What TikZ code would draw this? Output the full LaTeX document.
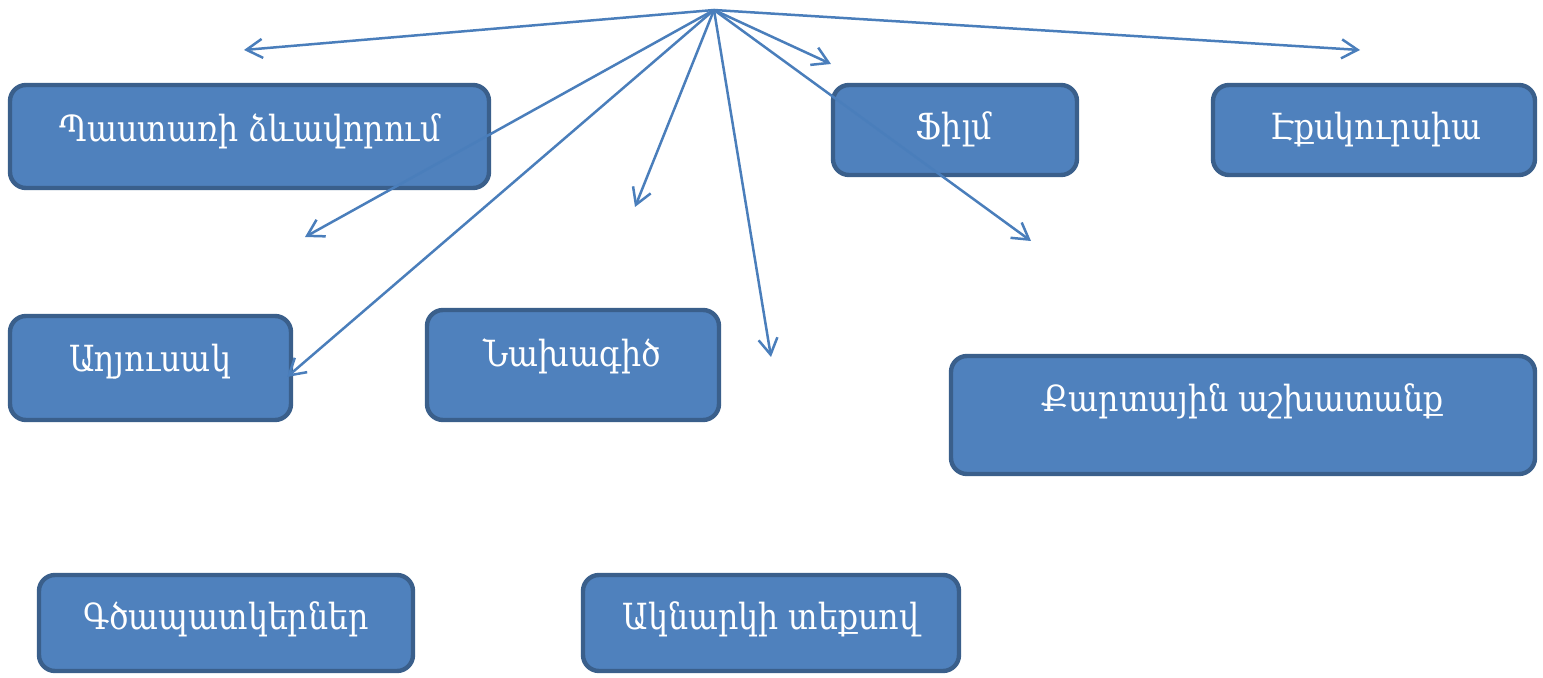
\documentclass[tikz,border=0pt]{standalone}
\usepackage{fontspec}
\setmainfont{DejaVu Serif}[FakeStretch=0.88]
\usetikzlibrary{arrows.meta}
\definecolor{boxfill}{HTML}{4F81BD}
\definecolor{boxline}{HTML}{3A5F8B}
\definecolor{arrowc}{HTML}{4A7EBB}
\begin{document}
\begin{tikzpicture}[x=0.5pt,y=-0.5pt,
  box/.style={draw=boxline, line width=2.2pt, fill=boxfill, rounded corners=8pt, inner sep=0pt},
  lbl/.style={anchor=base, text=white, font=\fontsize{18}{21}\selectfont, inner sep=0pt},
  arr/.style={draw=arrowc, line width=1.25pt, -{Straight Barb[length=8pt,width=9.5pt,line width=1.25pt]}}]
\useasboundingbox (0,0) rectangle (1543,678);
% boxes
\node[box, minimum width=479*0.5pt, minimum height=103*0.5pt] (b1) at (249.5,136.5) {};
\node[box, minimum width=244*0.5pt, minimum height=90*0.5pt] (b2) at (955,130) {};
\node[box, minimum width=322*0.5pt, minimum height=90*0.5pt] (b3) at (1374,130) {};
\node[box, minimum width=281*0.5pt, minimum height=104*0.5pt] (b4) at (150.5,368) {};
\node[box, minimum width=292*0.5pt, minimum height=110*0.5pt] (b5) at (573,365) {};
\node[box, minimum width=584*0.5pt, minimum height=118*0.5pt] (b6) at (1243,415) {};
\node[box, minimum width=374*0.5pt, minimum height=96*0.5pt] (b7) at (226,623) {};
\node[box, minimum width=376*0.5pt, minimum height=96*0.5pt] (b8) at (771,623) {};
% labels
\node[lbl] (t1) at (250,142) {Պաստառի ձևավորում};
\node[lbl] (t2) at (954,140) {Ֆիլմ};
\node[lbl] (t3) at (1376,140) {Էքսկուրսիա};
\node[lbl] (t4) at (150,372) {Աղյուսակ};
\node[lbl] (t5) at (572,367) {Նախագիծ};
\node[lbl] (t6) at (1243,412) {Քարտային աշխատանք};
\node[lbl] (t7) at (226,630) {Գծապատկերներ};
\node[lbl] (t8) at (771,630) {Ակնարկի տեքսով};
% arrows
\coordinate (hub) at (714,10);
\coordinate (e1) at (244,50);
\coordinate (e2) at (305,237);
\coordinate (e3) at (287,377);
\coordinate (e4) at (635,207);
\coordinate (e5) at (771,357);
\coordinate (e6) at (831,64);
\coordinate (e7) at (1031,241);
\coordinate (e8) at (1360,50);
\foreach \e in {e1,e2,e3,e4,e5,e6,e7,e8} \draw[arr] (hub) -- (\e);
\end{tikzpicture}
\end{document}
